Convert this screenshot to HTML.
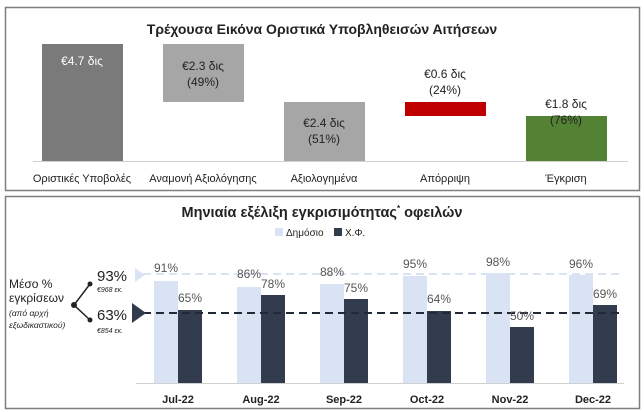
<!DOCTYPE html>
<html><head><meta charset="utf-8"><style>
body{margin:0;background:#fff}
svg{display:block;font-family:"Liberation Sans","DejaVu Sans",sans-serif}
</style></head><body>
<svg width="644" height="412" viewBox="0 0 644 412">
<rect x="5.5" y="7.5" width="634" height="183" fill="#fff" stroke="#7f7f7f" stroke-width="1.5"/>
<text x="322" y="34" font-size="14" font-weight="bold" text-anchor="middle" fill="#222">Τρέχουσα Εικόνα Οριστικά Υποβληθεισών Αιτήσεων</text>
<rect x="42" y="44" width="81" height="117" fill="#7a7a7a"/>
<rect x="163" y="44" width="81" height="58" fill="#a6a6a6"/>
<rect x="284" y="102" width="81" height="59" fill="#a6a6a6"/>
<rect x="405" y="102" width="81" height="14" fill="#c00000"/>
<rect x="526" y="116" width="81" height="45" fill="#548235"/>
<line x1="33" y1="161.5" x2="628" y2="161.5" stroke="#d0d0d0"/>
<g font-size="12" text-anchor="middle">
<text x="82" y="65" fill="#fff">€4.7 δις</text>
<text x="203" y="70" fill="#222">€2.3 δις</text><text x="203" y="86" fill="#222">(49%)</text>
<text x="324" y="127" fill="#222">€2.4 δις</text><text x="324" y="143" fill="#222">(51%)</text>
<text x="445" y="78" fill="#222">€0.6 δις</text><text x="445" y="94" fill="#222">(24%)</text>
<text x="566" y="108" fill="#222">€1.8 δις</text><text x="566" y="124" fill="#222">(76%)</text>
</g>
<g font-size="11" text-anchor="middle" fill="#222">
<text x="82" y="182">Οριστικές Υποβολές</text>
<text x="203" y="182">Αναμονή Αξιολόγησης</text>
<text x="324" y="182">Αξιολογημένα</text>
<text x="445" y="182">Απόρριψη</text>
<text x="566" y="182">Έγκριση</text>
</g>

<rect x="5.5" y="196.5" width="634" height="212" fill="#fff" stroke="#7f7f7f" stroke-width="1.5"/>
<text x="322" y="217" font-size="14.5" font-weight="bold" text-anchor="middle" fill="#222">Μηνιαία εξέλιξη εγκρισιμότητας<tspan font-size="8" dy="-6">*</tspan><tspan dy="6"> οφειλών</tspan></text>
<rect x="275" y="228" width="8" height="8" fill="#dae3f3"/>
<text x="286" y="236" font-size="10" fill="#222">Δημόσιο</text>
<rect x="334" y="228" width="8" height="8" fill="#323c4e"/>
<text x="345" y="236" font-size="10" fill="#222">Χ.Φ.</text>

<g>
<rect x="154" y="281" width="24" height="102" fill="#dae3f3"/><rect x="178" y="310" width="24" height="73" fill="#323c4e"/>
<rect x="237" y="287" width="24" height="96" fill="#dae3f3"/><rect x="261" y="295" width="24" height="88" fill="#323c4e"/>
<rect x="320" y="284" width="24" height="99" fill="#dae3f3"/><rect x="344" y="299" width="24" height="84" fill="#323c4e"/>
<rect x="403" y="276" width="24" height="107" fill="#dae3f3"/><rect x="427" y="311" width="24" height="72" fill="#323c4e"/>
<rect x="486" y="273" width="24" height="110" fill="#dae3f3"/><rect x="510" y="327" width="24" height="56" fill="#323c4e"/>
<rect x="569" y="275" width="24" height="108" fill="#dae3f3"/><rect x="593" y="305" width="24" height="78" fill="#323c4e"/>
</g>
<line x1="136" y1="383.5" x2="624" y2="383.5" stroke="#d0d0d0"/>
<line x1="143" y1="274" x2="621" y2="274" stroke="#dae3f3" stroke-width="2" stroke-dasharray="8,5"/>
<line x1="143" y1="313" x2="621" y2="313" stroke="#222a38" stroke-width="2" stroke-dasharray="8,5"/>
<polygon points="135,268 145,275 135,282" fill="#dae3f3"/>
<polygon points="132,303 146,313 132,323" fill="#323c4e"/>
<g font-size="12" text-anchor="middle" fill="#555">
<text x="166" y="272">91%</text><text x="190" y="302">65%</text>
<text x="249" y="278">86%</text><text x="273" y="288">78%</text>
<text x="332" y="276">88%</text><text x="356" y="292">75%</text>
<text x="415" y="268">95%</text><text x="439" y="303">64%</text>
<text x="498" y="266">98%</text><text x="522" y="320">50%</text>
<text x="581" y="268">96%</text><text x="605" y="298">69%</text>
</g>
<g font-size="11" font-weight="bold" text-anchor="middle" fill="#222">
<text x="178" y="403">Jul-22</text><text x="261" y="403">Aug-22</text><text x="344" y="403">Sep-22</text>
<text x="427" y="403">Oct-22</text><text x="510" y="403">Nov-22</text><text x="593" y="403">Dec-22</text>
</g>
<g fill="#222">
<text x="9" y="288" font-size="12">Μέσο %</text>
<text x="9" y="302" font-size="12">εγκρίσεων</text>
<text x="9" y="316" font-size="8.5" font-style="italic">(από αρχή</text>
<text x="9" y="328" font-size="8.5" font-style="italic">εξωδικαστικού)</text>
<text x="97" y="281" font-size="15">93%</text>
<text x="97" y="292" font-size="7" font-style="italic">€968 εκ.</text>
<text x="97" y="320" font-size="15">63%</text>
<text x="97" y="333" font-size="7" font-style="italic">€854 εκ.</text>
<polyline points="90,284 74,305 90,320" fill="none" stroke="#222" stroke-width="1.5"/>
<circle cx="74" cy="305" r="3"/><circle cx="90" cy="284" r="2.5"/><circle cx="90" cy="320" r="2.5"/>
</g>
</svg>
</body></html>
